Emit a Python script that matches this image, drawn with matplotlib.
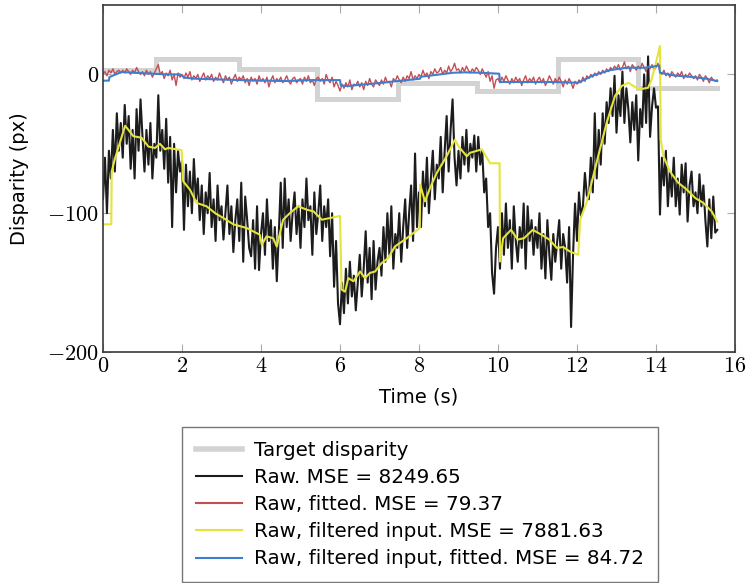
import numpy as np
import matplotlib
matplotlib.use("Agg")
import matplotlib.pyplot as plt

plt.rcParams['mathtext.fontset'] = 'cm'
plt.rcParams['font.family'] = ['DejaVu Sans']

# ---------------- data ----------------
target_t = [0, 1.35, 3.45, 5.43, 7.47, 9.47, 11.52, 13.55, 15.55]
target_v = [3, 11, 4, -18, -6.5, -12, 11, -10, -10]

raw_dt = 0.05
raw_v = [
    -90, -60, -100, -55, -75, -40, -70, -28, -55, -35,
    -60, -22, -50, -30, -68, -40, -75, -25, -55, -18,
    -45, -70, -40, -65, -35, -75, -50, -60, -15, -55,
    -40, -68, -32, -78, -45, -110, -50, -85, -55, -70,
    -62, -112, -65, -95, -70, -100, -61, -90, -75, -105,
    -80, -115, -85, -100, -71, -110, -90, -120, -80, -105,
    -95, -119, -100, -80, -115, -95, -128, -105, -90, -120,
    -78, -135, -88, -105, -125, -131, -105, -140, -95, -141,
    -115, -100, -130, -90, -120, -105, -140, -110, -149, -115,
    -78, -125, -75, -110, -90, -120, -100, -85, -115, -95,
    -125, -90, -110, -75, -105, -95, -130, -85, -115, -100,
    -80, -120, -95, -110, -90, -131, -100, -153, -120, -165,
    -180, -150, -172, -140, -165, -135, -160, -145, -170, -150,
    -130, -160, -140, -113, -150, -125, -162, -120, -155, -135,
    -125, -145, -110, -135, -100, -130, -95, -140, -115, -125,
    -100, -135, -110, -90, -125, -100, -80, -120, -57, -110,
    -85, -110, -70, -95, -60, -100, -75, -55, -90, -65,
    -75, -45, -85, -55, -30, -70, -40, -18, -60, -80,
    -55, -75, -45, -65, -40, -70, -50, -60, -44, -70,
    -45, -65, -55, -85, -75, -110, -100, -143, -158, -125,
    -110, -140, -100, -130, -93, -125, -105, -140, -95, -120,
    -135, -110, -125, -93, -140, -95, -120, -105, -130, -110,
    -125, -100, -140, -115, -147, -105, -130, -148, -115, -135,
    -120, -105, -140, -115, -125, -150, -110, -182, -130, -93,
    -120, -85, -102, -95, -71, -87, -90, -60, -85, -28,
    -75, -40, -65, -28, -50, -20, -35, -10, -30, -1,
    -42, -15, -30, 2, -35, -10, -25, -49, -20, -40,
    -15, -62, -25, -38, 0, -35, 13, -45, -23, -10,
    -24, -23, -101, -60, -80, -55, -95, -70, -88, -60,
    -95, -75, -101, -65, -85, -64, -106, -80, -70, -95,
    -85, -100, -72, -95, -80, -105, -124, -90, -118, -88,
    -114, -112,
]

fitted_v = [
    0, 2, -1, 3, 1, 4, 0, 2, 3, 1,
    3, 1, 4, 2, 0, 3, 1, 5, 2, 0,
    2, -1, 3, 0, 2, -2, 1, 4, 7, 0,
    2, -3, 1, -1, 3, -4, 0, -8, 1, -2,
    0, -3, 1, -2, 2, -4, -1, -3, 0, -5,
    -2, 1, -4, -1, -3, 0, -5, -2, -4, 1,
    -3, -6, -1, -4, -2, -7, -3, 0, -5, -2,
    -4, -1, -6, -3, -8, -2, -5, -3, -7, -1,
    -5, -3, -6, -2, -9, -4, -1, -6, -3, -5,
    -2, -6, -4, -1, -5, -7, -3, -2, -6, -4,
    -3, -7, -2, -5, -1, -6, -4, -8, -3, -2,
    -5, -3, -7, 0, -4, -6, -2, -9, -5, -8,
    -12, -7, -10, -6, -9, -4, -11, -7, -8, -5,
    -9, -6, -11, -5, -8, -3, -7, -9, -4, -6,
    -8, -4, -7, -2, -6, -5, -9, -3, -5, -1,
    -4, -6, -2, -5, -1, -3, 2, -4, -1, -3,
    0, -2, 3, -1, 1, -3, 2, 0, 4, 1,
    2, 5, 0, 3, 1, 6, 2, 4, 8, 3,
    4, 1, 5, 2, 6, 3, 1, 4, 2, 5,
    3, 0, 4, 1, -2, 2, -5, -1, -10, -4,
    -3, -6, -2, -5, -1, -4, -7, -3, -6, -2,
    -5, -3, -8, -4, -1, -6, -3, -5, -2, -7,
    -4, -2, -6, -3, -8, -5, -1, -4, -7, -3,
    -6, -2, -5, -9, -4, -7, -3, -6, -10, -5,
    -7, -4, -6, -2, -5, -1, -3, 0, -2, 1,
    -1, 2, 0, 3, 1, 4, 2, 5, 3, 6,
    4, 7, 3, 5, 9, 4, 6, 2, 7, 5,
    3, 6, 4, 8, 5, 2, 6, 4, 7, 3,
    5, 8, 2, 0, 3, -1, 1, -2, 2, 0,
    -2, 1, -1, 2, -3, 0, -2, 1, -1, -3,
    -1, -4, 0, -2, -5, -1, -3, -6, -2, -4,
    -5, -4,
]

filt_t = [0, 0.21, 0.22, 0.3, 0.56, 0.77, 0.98, 1.15, 1.32, 1.44, 1.57, 1.65, 1.99,
          2.03, 2.2, 2.37, 2.62, 2.84, 3.05, 3.3, 3.64, 3.97, 4.02, 4.14, 4.31, 4.4,
          4.56, 4.73, 4.94, 5.16, 5.33, 5.54, 6.0, 6.04, 6.13, 6.21, 6.34, 6.51, 6.63,
          6.76, 6.89, 7.05, 7.22, 7.39, 7.69, 8.02, 8.03, 8.15, 8.28, 8.45, 8.7, 8.91,
          9.0, 9.21, 9.29, 9.59, 9.8, 10.04, 10.05, 10.13, 10.33, 10.5, 10.66, 10.88,
          11.1, 11.3, 11.49, 11.65, 11.82, 12.03, 12.08, 12.24, 12.41, 12.58, 12.75,
          12.96, 13.13, 13.3, 13.43, 13.59, 13.8, 13.89, 14.02, 14.1, 14.12, 14.19,
          14.35, 14.56, 14.78, 14.99, 15.2, 15.41, 15.55]
filt_v = [-108, -108, -70, -61, -37, -44.5, -45.7, -52, -53, -50, -54, -53, -54.6,
          -77, -83, -92.6, -95, -100, -103.5, -108, -110.7, -115.5, -122.7, -116.7, -118, -124,
          -104.7, -100, -95, -97.5, -98.7, -104.7, -102, -155, -156.5, -146.8, -149, -142, -146.8,
          -143, -142, -136, -132.4, -124, -118, -110.7, -79.4, -91.5, -81.8, -71, -59, -47,
          -51.8, -59, -56.5, -54, -64, -64, -134.8, -118, -112, -119, -118, -112,
          -115.5, -119, -125, -124.4, -127.6, -130, -104.7, -92.6, -73.4, -54, -35,
          -15.7, -8.4, -6, -8.4, -10.8, -9.6, -3.6, 10.8, 20.4, -47, -59,
          -69.8, -78, -83, -89, -92.6, -98.7, -106]

ff_t = [0, 0.15, 0.16, 0.22, 0.47, 0.77, 1.1, 1.61, 1.95, 2.08, 2.33, 3.47, 4.6, 5.24,
        6.0, 6.02, 6.17, 6.89, 8.03, 8.04, 8.87, 9.16, 9.54, 10.03, 10.05, 11.44, 12.03,
        12.41, 12.84, 13.26, 13.72, 13.93, 14.08, 14.1, 14.44, 14.86, 15.28, 15.55]
ff_v = [-4.5, -4.5, -2, -1.2, 1.7, 1.2, 0.7, 0, 0, -2.4, -3.1, -4.1, -4.8, -4.1,
        -4.1, -7.9, -8.4, -6.5, -3.1, -1.7, 1.2, 1.5, 1.2, 0.5, -5.5, -5.5, -6,
        -0.7, 3.1, 4.8, 4.8, 5.6, 6.5, 1.2, -0.7, -1.7, -3.1, -4.8]

labels = ["Target disparity",
          "Raw. MSE = 8249.65",
          "Raw, fitted. MSE = 79.37",
          "Raw, filtered input. MSE = 7881.63",
          "Raw, filtered input, fitted. MSE = 84.72"]
xticks = [0, 2, 4, 6, 8, 10, 12, 14, 16]
yticks = [-200, -100, 0]

# ---------------- plot ----------------
fig = plt.figure(figsize=(7.51, 5.83), dpi=100)
ax = fig.add_axes([103 / 751, 1 - 352 / 583, (735 - 103) / 751, (352 - 5) / 583])

raw_t = np.arange(len(raw_v)) * raw_dt
fit_t = np.arange(len(fitted_v)) * raw_dt

ax.plot(target_t, target_v, drawstyle='steps-post', color='#d3d3d3', lw=3.6,
        solid_joinstyle='miter', label=labels[0])
ax.plot(raw_t, raw_v, color='#1c1c1c', lw=1.5, label=labels[1])
ax.plot(fit_t, fitted_v, color='#c44e52', lw=1.0, label=labels[2])
ax.plot(filt_t, filt_v, color='#e4e43a', lw=1.5, label=labels[3])
ax.plot(ff_t, ff_v, color='#3f7dd0', lw=1.5, label=labels[4])

ax.set_xlim(0, 16)
ax.set_ylim(-200, 50)
ax.set_xticks(xticks)
ax.set_xticklabels([f"${v}$" for v in xticks], fontsize=16)
ax.set_yticks(yticks)
ax.set_yticklabels([f"${v}$" for v in yticks], fontsize=16)
ax.tick_params(direction='in', length=6, width=0.8, color='#aaaaaa',
               top=True, right=True, pad=3)
for s in ax.spines.values():
    s.set_color('#3a3a3a')
    s.set_linewidth(1.2)

ax.set_xlabel("Time (s)", fontsize=14, labelpad=8)
ax.set_ylabel("Disparity (px)", fontsize=14, labelpad=13)

leg = fig.legend(loc='upper center', bbox_to_anchor=(420 / 751, 1 - 427 / 583),
                 fontsize=14.3, frameon=True, fancybox=False, edgecolor='#555555',
                 labelspacing=0.41, handlelength=2.3, borderpad=0.7, handletextpad=0.6,
                 borderaxespad=0)
leg.get_frame().set_linewidth(1.0)
for line in leg.get_lines():
    line.set_linewidth(1.5)
leg.get_lines()[0].set_linewidth(4)

fig.savefig("out.png", dpi=100)
